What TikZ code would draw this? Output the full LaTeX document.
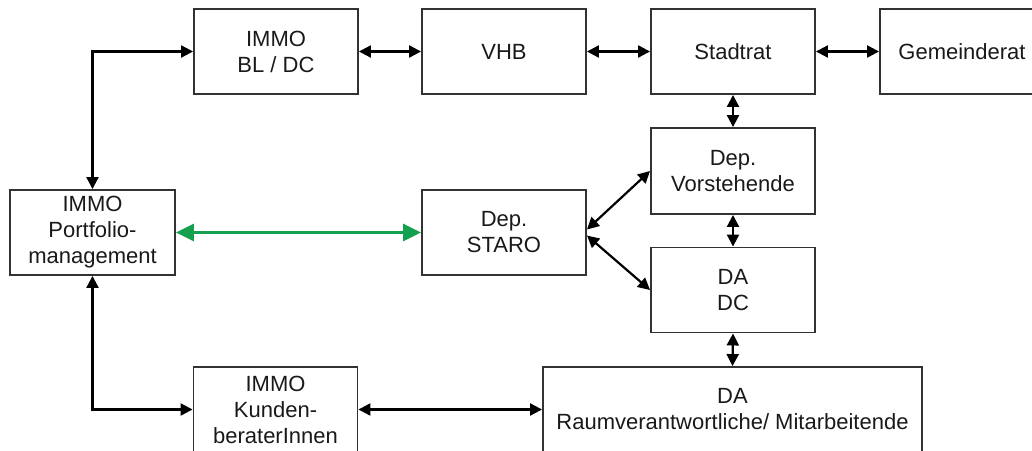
\documentclass[tikz,border=0pt]{standalone}
\usepackage{fontspec}
\setmainfont{Liberation Sans}
\usetikzlibrary{arrows.meta}
\definecolor{linkgreen}{RGB}{20,160,78}
\definecolor{boxline}{RGB}{50,50,50}

\begin{document}
\begin{tikzpicture}[x=1pt,y=-1pt,
  box/.style={draw=boxline, line width=1.9pt, minimum width=164pt, minimum height=85pt,
    inner sep=0pt, align=center, font=\fontsize{22}{26}\selectfont, text=black!90},
  link/.style={line width=2.2pt, draw=black,
    {Triangle[length=12pt,width=12pt]}-{Triangle[length=12pt,width=12pt]}},
  greenlink/.style={line width=3pt, draw=linkgreen,
    {Triangle[length=18pt,width=17pt]}-{Triangle[length=18pt,width=17pt]}}
]
\useasboundingbox (0,0) rectangle (1032,450);
\clip (0,0) rectangle (1032,450);

% top row
\node[box] (bldc)        at (276,51.5) {IMMO\\BL / DC};
\node[box] (vhb)         at (504,51.5) {VHB};
\node[box] (stadtrat)    at (733,51.5) {Stadtrat};
\node[box] (gemeinderat) at (962,51.5) {Gemeinderat};

% middle
\node[box, minimum width=165pt] (portfolio) at (92.5,232.5) {IMMO\\Portfolio-\\management};
\node[box] (staro) at (504,232.5) {Dep.\\STARO};
\node[box, minimum height=86pt] (dv) at (733,171) {Dep.\\Vorstehende};
\node[box] (dadc) at (733,290) {DA\\DC};

% bottom row
\node[box] (kunden) at (275.5,409.5) {IMMO\\Kunden-\\beraterInnen};
\node[box, minimum width=379pt] (raum) at (732.5,409.5) {DA\\Raumverantwortliche/ Mitarbeitende};

% connectors
\draw[link] (bldc.east) -- (vhb.west);
\draw[link] (vhb.east) -- (stadtrat.west);
\draw[link] (stadtrat.east) -- (gemeinderat.west);
\draw[link] (stadtrat.south) -- (dv.north);
\draw[link] (dv.south) -- (dadc.north);
\draw[link] (dadc.south) -- (raum.north);
\draw[link] (portfolio.north) |- (bldc.west);
\draw[link] (portfolio.south) |- (kunden.west);
\draw[link] (kunden.east) -- (raum.west);
\draw[link] ([yshift=3pt]staro.east) -- (dv.west);
\draw[link] ([yshift=-3pt]staro.east) -- (dadc.west);
\draw[greenlink] (portfolio.east) -- (staro.west);
\end{tikzpicture}
\end{document}
